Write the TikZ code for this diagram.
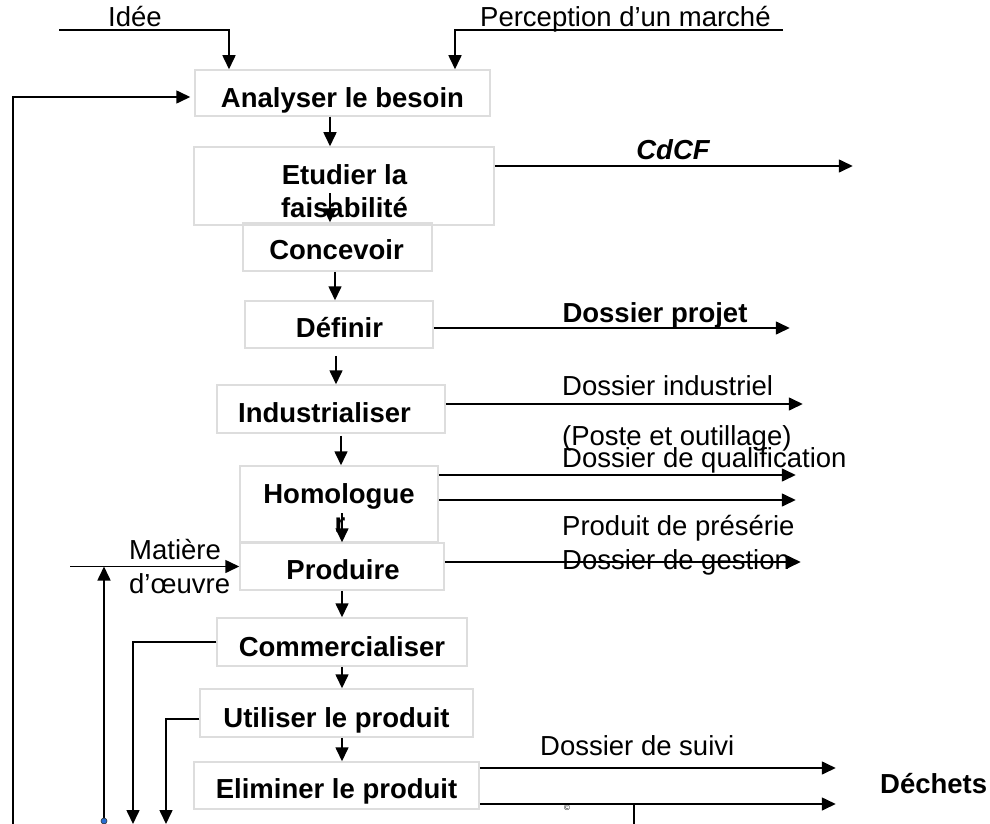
\documentclass[tikz,border=0pt]{standalone}
\usepackage{fontspec}
\setmainfont{Liberation Sans}
\usetikzlibrary{arrows.meta}
\definecolor{boxgray}{HTML}{DDDDDD}
\begin{document}
\begin{tikzpicture}[x=1pt,y=-1pt,
  box/.style={draw=boxgray,line width=1.5pt,inner sep=0pt},
  txt/.style={font=\fontsize{27.5}{31}\selectfont,inner sep=0pt,anchor=base},
  txtw/.style={txt,anchor=base west},
  btxt/.style={txt,font=\fontsize{27.5}{31}\selectfont\bfseries},
  ln/.style={line width=1.6pt},
  arr/.style={line width=1.6pt,-{Triangle[length=14pt,width=13pt]}}]
\useasboundingbox (0,0) rectangle (990,824);
% boxes
\node[box,minimum width=295pt,minimum height=46pt] (an) at (342.5,93) {};
\node[box,minimum width=300pt,minimum height=78pt] (et) at (344,186) {};
\node[box,minimum width=189pt,minimum height=48pt] (cv) at (337.5,247) {};
\node[box,minimum width=188pt,minimum height=47pt] (de) at (339,324.5) {};
\node[box,minimum width=228pt,minimum height=48pt] (ind) at (331,409) {};
\node[box,minimum width=198pt,minimum height=76pt] (ho) at (339,504) {};
\node[box,minimum width=204pt,minimum height=47pt] (pr) at (342,566.5) {};
\node[box,minimum width=250pt,minimum height=48pt] (co) at (342,642) {};
\node[box,minimum width=273pt,minimum height=48pt] (ut) at (336.5,713) {};
\node[box,minimum width=285pt,minimum height=47pt] (el) at (336.5,785.5) {};
% box texts
\node[btxt] (tan) at (342.5,108) {Analyser le besoin};
\node[btxt] (tet1) at (344.5,184) {Etudier la};
\node[btxt] (tet2) at (344.5,217) {faisabilité};
\node[btxt] (tcv) at (336.5,259) {Concevoir};
\node[btxt] (tde) at (339.5,337) {Définir};
\node[btxt] (tind) at (324.5,422) {Industrialiser};
\node[btxt] (tho1) at (339,503) {Homologue};
\node[btxt] (tho2) at (340,532) {r};
\node[btxt] (tpr) at (343,579) {Produire};
\node[btxt] (tco) at (342,656) {Commercialiser};
\node[btxt] (tut) at (336.5,727) {Utiliser le produit};
\node[btxt] (tel) at (336.5,798) {Eliminer le produit};
% vertical flow arrows
\coordinate (etout) at (330,193);
\coordinate (hoout) at (342,513);
\draw[arr] (an.south -| 330,0) -- (et.north -| 330,0);
\draw[arr] (etout) -- (cv.north -| etout);
\draw[arr] (cv.south -| 335,0) -- (de.north -| 335,0);
\draw[arr,shorten <=7pt] (de.south -| 336,0) -- (ind.north -| 336,0);
\draw[arr,shorten <=2pt] (ind.south -| 341,0) -- (ho.north -| 341,0);
\draw[arr] (hoout) -- (pr.north -| hoout);
\draw[arr] (pr.south -| 342,0) -- (co.north -| 342,0);
\draw[arr] (co.south -| 342,0) -- (ut.north -| 342,0);
\draw[arr] (ut.south -| 342,0) -- (el.north -| 342,0);
% top inputs
\coordinate (ideeL) at (59,30);
\coordinate (percR) at (783,30);
\draw[arr] (ideeL) -| (an.north -| 229,0);
\draw[arr] (percR) -| (an.north -| 455,0);
\node[txtw] (tidee) at (108,27) {Idée};
\node[txtw] (tperc) at (480,27) {Perception d’un marché};
% feedback loop left
\coordinate (fb) at (13,824);
\draw[arr,shorten >=4pt] (fb) |- ([yshift=-4pt]an.west);
% outputs right
\draw[arr] ([yshift=20pt]et.east) -- ++(358,0);
\node[btxt,font=\fontsize{27.5}{31}\selectfont\bfseries\itshape] (tcdcf) at (673,160) {CdCF};
\draw[arr] ([yshift=-3.5pt]de.east) -- ++(356,0);
\node[btxt] (tdp) at (655,322) {Dossier projet};
\draw[arr] ([yshift=5pt]ind.east) -- ++(357,0);
\node[txtw] (tdi) at (562,395) {Dossier industriel};
\node[txtw] (tpo) at (562,445) {(Poste et outillage)};
\node[txtw] (tdq) at (562,467) {Dossier de qualification};
\draw[arr] ([yshift=29pt]ho.east) -- ++(357,0);
\draw[arr] ([yshift=4pt]ho.east) -- ++(357,0);
\node[txtw] (tpp) at (562,535) {Produit de présérie};
\node[txtw] (tdg) at (562,569) {Dossier de gestion};
\draw[arr] ([yshift=4.5pt]pr.east) -- ++(356,0);
% matière d'oeuvre
\coordinate (mat) at (70,566.5);
\coordinate (mbot) at (104,824);
\node[txtw] (tmat1) at (129,559) {Matière};
\node[txtw] (tmat2) at (129,593) {d’œuvre};
\draw[arr] (mat) -- (pr.west);
\draw[arr] (mbot) -- (mbot |- mat);
\fill[fill={rgb,255:red,40;green,110;blue,210},draw=black!80,line width=0.6pt] (104,821) circle (3pt);
% returns from commercialiser / utiliser
\coordinate (cbot) at (133,824);
\coordinate (ubot) at (166,824);
\draw[arr] (co.west) -| (cbot);
\draw[arr] ([yshift=-6pt]ut.west) -| (ubot);
% eliminer outputs
\draw[arr] ([yshift=17.5pt]el.east) -- ++(356,0);
\draw[arr] ([yshift=-18.5pt]el.east) -- ++(356,0);
\node[txtw] (tds) at (540,755) {Dossier de suivi};
\node[btxt,anchor=base west] (tdech) at (880,793) {Déchets};
\node[inner sep=0pt,font=\fontsize{8}{8}\selectfont] (tcopy) at (567,808) {©};
\coordinate (dtop) at (634,804);
\coordinate (dbot) at (634,824);
\draw[ln] (dtop) -- (dbot);
\end{tikzpicture}
\end{document}
